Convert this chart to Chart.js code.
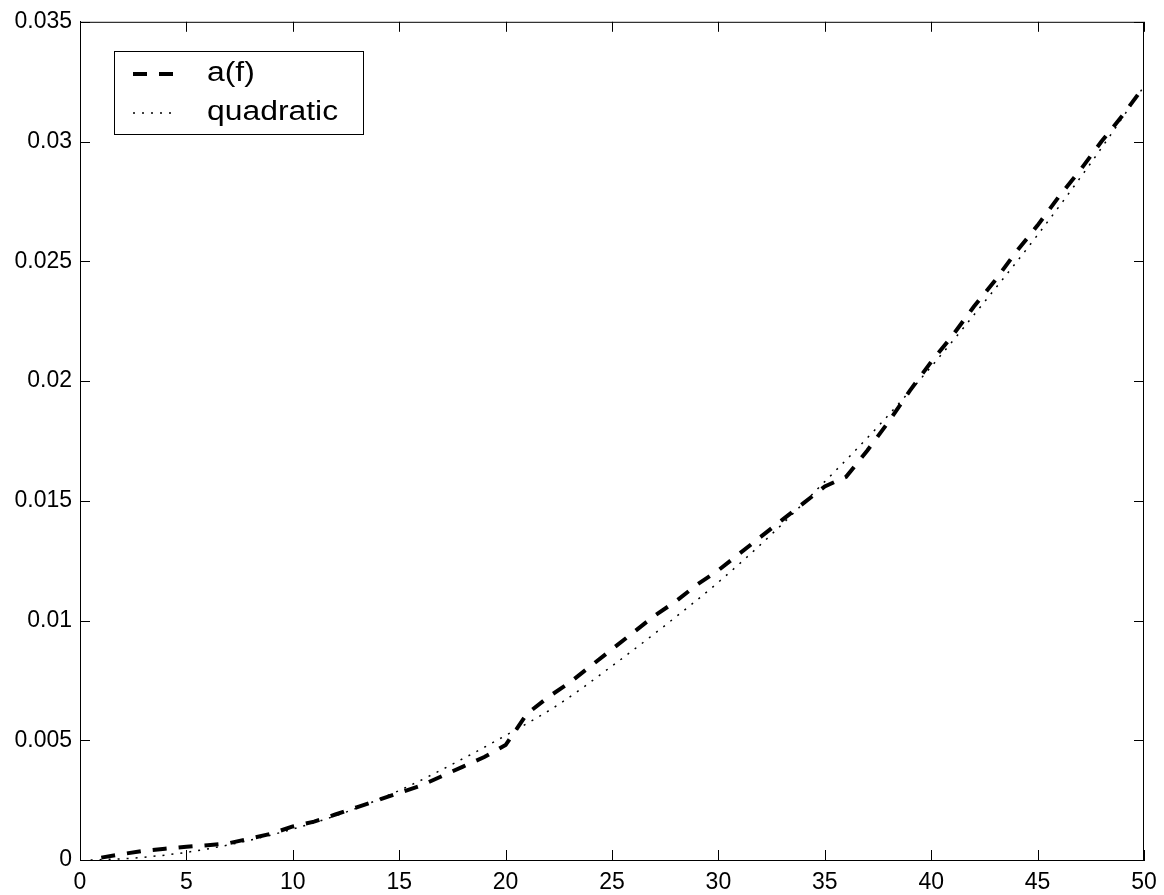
<!DOCTYPE html>
<html>
<head>
<meta charset="utf-8">
<script src="https://cdn.jsdelivr.net/npm/chart.js@4/dist/chart.umd.min.js"></script>
<style>
  html, body { margin: 0; padding: 0; background: #fff; }
  #wrap { width: 1164px; height: 895px; }
</style>
</head>
<body>
<div id="wrap"><canvas id="plot" width="1164" height="895"></canvas></div>
<script>
// a(f), one value per integer x
const afX = [1,2,3,4,5,6,7,8,9,10,11,12,13,14,15,16,17,18,19,20,21,22,23,24,25,26,27,28,29,30,31,32,33,34,35,36,37,38,39,40,41,42,43,44,45,46,47,48,49,50];
const afY = [0.0001,0.00025,0.00038,0.00047,0.00055,0.00062,0.0007,0.0009,0.0011,0.0014,0.0016,0.0019,0.0022,0.0025,0.0028,0.0031,0.0035,0.0039,0.0043,0.0048,
             0.0061,0.0068,0.0074,0.0081,0.0088,0.0095,0.0102,0.0108,0.0115,0.0121,0.0128,0.0135,0.0142,0.0149,0.0156,0.0160,0.0171,0.0183,0.0196,0.0208,
             0.0219,0.0231,0.0242,0.0254,0.0265,0.0277,0.0288,0.0300,0.0311,0.0323];

// quadratic fit curve, read every 2.5
const quadX = [0.5,2.5,5,7.5,10,12.5,15,17.5,20,22.5,25,27.5,30,32.5,35,37.5,40,42.5,45,47.5,50];
const quadY = [0.0000,0.00008,0.00032,0.00073,0.00129,0.0020,0.0029,0.0040,0.0052,0.0065,0.0081,0.0098,0.0116,0.0136,0.0158,0.0181,0.0206,0.0233,0.0261,0.0291,0.0323];

const seriesNames = ['a(f)', 'quadratic'];
const xTicks = [0, 50, 5];        // min, max, step
const yTicks = [0, 0.035, 0.005];

const FONT = '"Liberation Sans", Arial, Helvetica, sans-serif';

function pts(xs, ys) {
  return xs.map((x, i) => ({ x: x, y: ys[i] }));
}

// box + inward ticks on all four sides, and legend inside the plot (matlab style)
const boxPlugin = {
  id: 'box',
  afterDraw(chart) {
    const ctx = chart.ctx;
    const a = chart.chartArea;
    const xs = chart.scales.x, ys = chart.scales.y;
    const len = 10;
    ctx.save();
    ctx.strokeStyle = '#000';
    ctx.lineWidth = 1;
    ctx.strokeRect(a.left + 0.5, a.top + 0.5, a.right - a.left - 1, a.bottom - a.top);
    ctx.beginPath();
    xs.ticks.forEach(t => {
      const px = Math.round(xs.getPixelForValue(t.value)) + 0.5;
      ctx.moveTo(px, a.bottom); ctx.lineTo(px, a.bottom - len);
      ctx.moveTo(px, a.top); ctx.lineTo(px, a.top + len);
    });
    ys.ticks.forEach(t => {
      const py = Math.round(ys.getPixelForValue(t.value)) + 0.5;
      ctx.moveTo(a.left, py); ctx.lineTo(a.left + len, py);
      ctx.moveTo(a.right, py); ctx.lineTo(a.right - len, py);
    });
    ctx.stroke();

    // legend
    const lx = 114, ly = 51, lw = 249, lh = 83;
    ctx.fillStyle = '#fff';
    ctx.fillRect(lx, ly, lw, lh);
    ctx.strokeRect(lx + 0.5, ly + 0.5, lw, lh);
    const rows = [74, 113];
    chart.data.datasets.forEach((ds, i) => {
      ctx.beginPath();
      ctx.lineWidth = ds.borderWidth;
      ctx.setLineDash(ds.borderDash || []);
      ctx.lineCap = 'butt';
      ctx.moveTo(133, rows[i]);
      ctx.lineTo(177, rows[i]);
      ctx.stroke();
      ctx.setLineDash([]);
      // the original text is a bit wide, stretch it sideways
      ctx.save();
      ctx.translate(207, rows[i]);
      ctx.scale(1.18, 1);
      ctx.fillStyle = '#000';
      ctx.font = '27px ' + FONT;
      ctx.textBaseline = 'middle';
      ctx.fillText(ds.label, 0, 0);
      ctx.restore();
    });
    ctx.restore();
  }
};

new Chart(document.getElementById('plot'), {
  type: 'line',
  data: {
    datasets: [
      {
        label: seriesNames[0],
        data: pts(afX, afY),
        borderColor: '#000',
        borderWidth: 4,
        borderDash: [14, 12],
        pointRadius: 0,
        fill: false,
        tension: 0
      },
      {
        label: seriesNames[1],
        data: pts(quadX, quadY),
        borderColor: '#000',
        borderWidth: 1.5,
        borderDash: [2, 7],
        pointRadius: 0,
        fill: false,
        tension: 0.4,
        cubicInterpolationMode: 'monotone'
      }
    ]
  },
  options: {
    responsive: false,
    animation: false,
    layout: { padding: { top: 20, right: 20, left: 0, bottom: 0 } },
    plugins: {
      legend: { display: false },
      tooltip: { enabled: false }
    },
    scales: {
      x: {
        type: 'linear',
        min: xTicks[0], max: xTicks[1],
        grid: { display: false, drawTicks: false },
        border: { display: true, color: '#000', width: 1 },
        ticks: {
          stepSize: xTicks[2],
          color: '#000',
          padding: 5,
          maxRotation: 0,
          font: { size: 23, family: FONT, lineHeight: 1.55 }
        },
        afterFit(scale) { scale.height = 35; }
      },
      y: {
        type: 'linear',
        min: yTicks[0], max: yTicks[1],
        grid: { display: false, drawTicks: false },
        border: { display: true, color: '#000', width: 1 },
        ticks: {
          stepSize: yTicks[2],
          color: '#000',
          padding: 8,
          font: { size: 23, family: FONT },
          callback: v => String(parseFloat(Number(v).toFixed(3)))
        },
        afterFit(scale) { scale.width = 80; }
      }
    }
  },
  plugins: [boxPlugin]
});
</script>
</body>
</html>
